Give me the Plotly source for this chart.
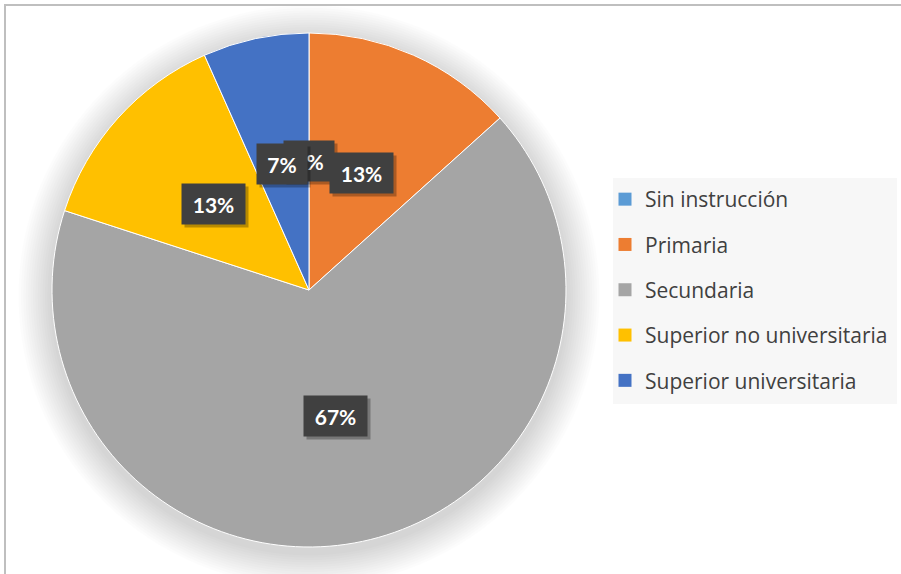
import math
import plotly.graph_objects as go

# Nivel educativo: cantidad de personas por categoría
categorias = ["Sin instrucción", "Primaria", "Secundaria",
              "Superior no universitaria", "Superior universitaria"]
cantidades = [0, 2, 10, 2, 1]
colores = ["#5B9BD5", "#ED7D31", "#A5A5A5", "#FFC000", "#4472C4"]

W, H = 901, 574
CX, CY, R = 309, 290, 257   # centro y radio del pastel en píxeles


def px_x(x):
    return x / W


def px_y(y):
    return 1 - y / H


fig = go.Figure()

fig.add_trace(go.Pie(
    labels=categorias,
    values=cantidades,
    marker=dict(colors=colores, line=dict(color="white", width=1)),
    sort=False,
    direction="clockwise",
    rotation=0,
    textinfo="none",
    hoverinfo="label+percent",
    showlegend=False,
    domain=dict(x=[px_x(CX - R), px_x(CX + R)],
                y=[px_y(CY + R), px_y(CY - R)]),
))

# Leyenda con marcadores cuadrados, una entrada por categoría
for cat, col in zip(categorias, colores):
    fig.add_trace(go.Scatter(
        x=[None], y=[None], mode="markers", name=cat, legendgroup=cat,
        marker=dict(symbol="square", size=13, color=col),
    ))

shapes = []
# Sombra suave alrededor del pastel
for k in range(1, 15):
    r = R + 2.4 * k
    shapes.append(dict(
        type="circle", xref="paper", yref="paper", layer="below",
        x0=px_x(CX - r), x1=px_x(CX + r),
        y0=px_y(CY + 6 + r), y1=px_y(CY + 6 - r),
        fillcolor="rgba(0,0,0,0.012)", line=dict(width=0),
    ))
# Fondo de la leyenda
shapes.append(dict(
    type="rect", xref="paper", yref="paper", layer="below",
    x0=px_x(613), x1=px_x(897), y0=px_y(404), y1=px_y(178),
    fillcolor="#f7f7f7", line=dict(width=0),
))
# Marco del gráfico
shapes.append(dict(type="line", xref="paper", yref="paper",
                   x0=px_x(4), x1=px_x(905), y0=px_y(5), y1=px_y(5),
                   line=dict(color="#bfbfbf", width=2)))
shapes.append(dict(type="line", xref="paper", yref="paper",
                   x0=px_x(5), x1=px_x(5), y0=px_y(4), y1=px_y(580),
                   line=dict(color="#bfbfbf", width=2)))

# Etiquetas de porcentaje en el punto medio de cada sector
total = sum(cantidades)
annotations = []
acum = 0
for v in cantidades:
    frac = v / total
    theta = 2 * math.pi * (acum + frac / 2)
    acum += frac
    lx = CX + 0.5 * R * math.sin(theta)
    ly = CY - 0.5 * R * math.cos(theta)
    texto = f"{round(frac * 100)}%"
    ancho = 24 + 13 * len(texto)
    comunes = dict(x=px_x(lx), y=px_y(ly), xref="paper", yref="paper",
                   xanchor="center", yanchor="middle", showarrow=False,
                   width=ancho, height=40, borderpad=0)
    # sombra de la etiqueta (caja sin texto)
    annotations.append(dict(
        comunes, text="&nbsp;", xshift=3, yshift=-3,
        bgcolor="rgba(0,0,0,0.28)",
        font=dict(family="Lato", size=21, color="rgba(0,0,0,0)"),
    ))
    annotations.append(dict(
        comunes, text=f"<b>{texto}</b>", bgcolor="#404040",
        font=dict(family="Lato", size=21, color="white"),
    ))

fig.update_layout(
    width=W, height=H,
    margin=dict(l=0, r=0, t=0, b=0),
    paper_bgcolor="white", plot_bgcolor="white",
    xaxis=dict(visible=False), yaxis=dict(visible=False),
    shapes=shapes,
    annotations=annotations,
    legend=dict(
        x=px_x(605), y=px_y(179), xanchor="left", yanchor="top",
        bgcolor="rgba(0,0,0,0)",
        font=dict(family="Open Sans", size=21, color="#404040"),
        tracegroupgap=15, traceorder="grouped",
        itemclick=False, itemdoubleclick=False,
    ),
)

fig.write_html("out.html")
